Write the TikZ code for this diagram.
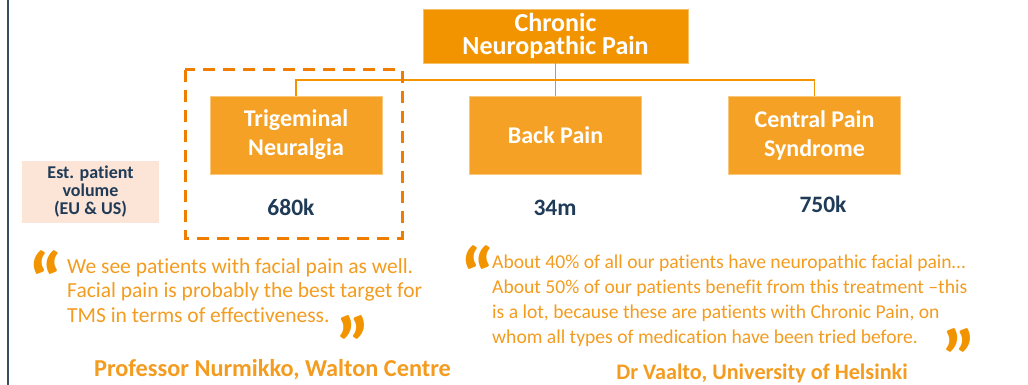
\documentclass[tikz,border=0pt]{standalone}
\usepackage{fontspec}
\setmainfont{Carlito}[Ligatures=NoCommon]
\definecolor{topor}{HTML}{F29400}
\definecolor{boxor}{HTML}{F4A125}
\definecolor{dashor}{HTML}{F07D00}
\definecolor{quoteor}{HTML}{F39C1F}
\definecolor{navy}{HTML}{1F3B57}
\definecolor{peach}{HTML}{FCE4D6}
\definecolor{edge}{HTML}{3A4D62}
\tikzset{
  topbox/.style={fill=topor, draw=topor!60, line width=0.5pt, minimum width=265pt, minimum height=54pt, inner sep=0pt, align=center, text=white, font=\fontsize{26}{23.5}\selectfont\bfseries},
  childbox/.style={fill=boxor, draw=boxor!60, line width=0.5pt, minimum width=172pt, minimum height=78pt, inner sep=0pt, align=center, text=white, font=\fontsize{24}{29}\selectfont\bfseries},
  numlbl/.style={text=navy, font=\fontsize{23.5}{24}\selectfont\bfseries, inner sep=0pt},
  conn/.style={draw=topor, line width=1.4pt},
  quotetxt/.style={text=quoteor, align=left, inner sep=0pt, anchor=north west},
  qmark/.style={text=topor, inner sep=0pt, anchor=north, font=\fontsize{80}{80}\selectfont\bfseries},
  author/.style={text=quoteor, inner sep=0pt},
}
\begin{document}
\begin{tikzpicture}[x=1pt,y=-1pt]
\useasboundingbox (0,0) rectangle (1028,385);
\fill[white] (0,0) rectangle (1028,385);
\draw[edge, line width=2pt] (8,0) -- (8,385);

\node[topbox] (top) at (555.5,36) {Chronic\\Neuropathic Pain};
\node[childbox] (tn) at (296,135) {Trigeminal\\Neuralgia};
\node[childbox] (bp) at (555.5,135) {Back Pain};
\node[childbox] (cp) at (814.5,135) {Central Pain\\Syndrome};

\coordinate (j) at (555.5,80);
\draw[conn] (top.south) -- (j);
\draw[conn] (j) -| (tn.north);
\draw[conn] (j) -| (cp.north);
\draw[conn] (j) -- (bp.north);

\draw[dashor, line width=3pt, dash pattern=on 12pt off 8pt] (185,70) rectangle (402,238);

\node[fill=peach, minimum width=137pt, minimum height=62pt, inner sep=0pt, align=center, text=navy, font=\fontsize{18}{18}\selectfont\bfseries] (est) at (90.5,192) {Est. patient\\volume\\(EU \& US)};

\node[numlbl] (n1) at (291,207) {680k};
\node[numlbl] (n2) at (555,208) {34m};
\node[numlbl] (n3) at (823,204) {750k};

\node[qmark] (q1o) at (46,250) {“};
\node[quotetxt, font=\fontsize{21.5}{24.5}\selectfont] (q1) at (67,258) {We see patients with facial pain as well.\\Facial pain is probably the best target for\\TMS in terms of effectiveness.};
\node[qmark] (q1c) at (353,315) {”};
\node[author, font=\fontsize{24.3}{25}\selectfont\bfseries] (a1) at (272.5,370) {Professor Nurmikko, Walton Centre};

\node[qmark] (q2o) at (478,245) {“};
\node[quotetxt, font=\fontsize{19.6}{25}\selectfont] (q2) at (492,254.5) {About 40\% of all our patients have neuropathic facial pain…\\About 50\% of our patients benefit from this treatment –this\\is a lot, because these are patients with Chronic Pain, on\\whom all types of medication have been tried before.};
\node[qmark] (q2c) at (959,328) {”};
\node[author, font=\fontsize{22.2}{24}\selectfont\bfseries] (a2) at (762,373) {Dr Vaalto, University of Helsinki};
\end{tikzpicture}
\end{document}
